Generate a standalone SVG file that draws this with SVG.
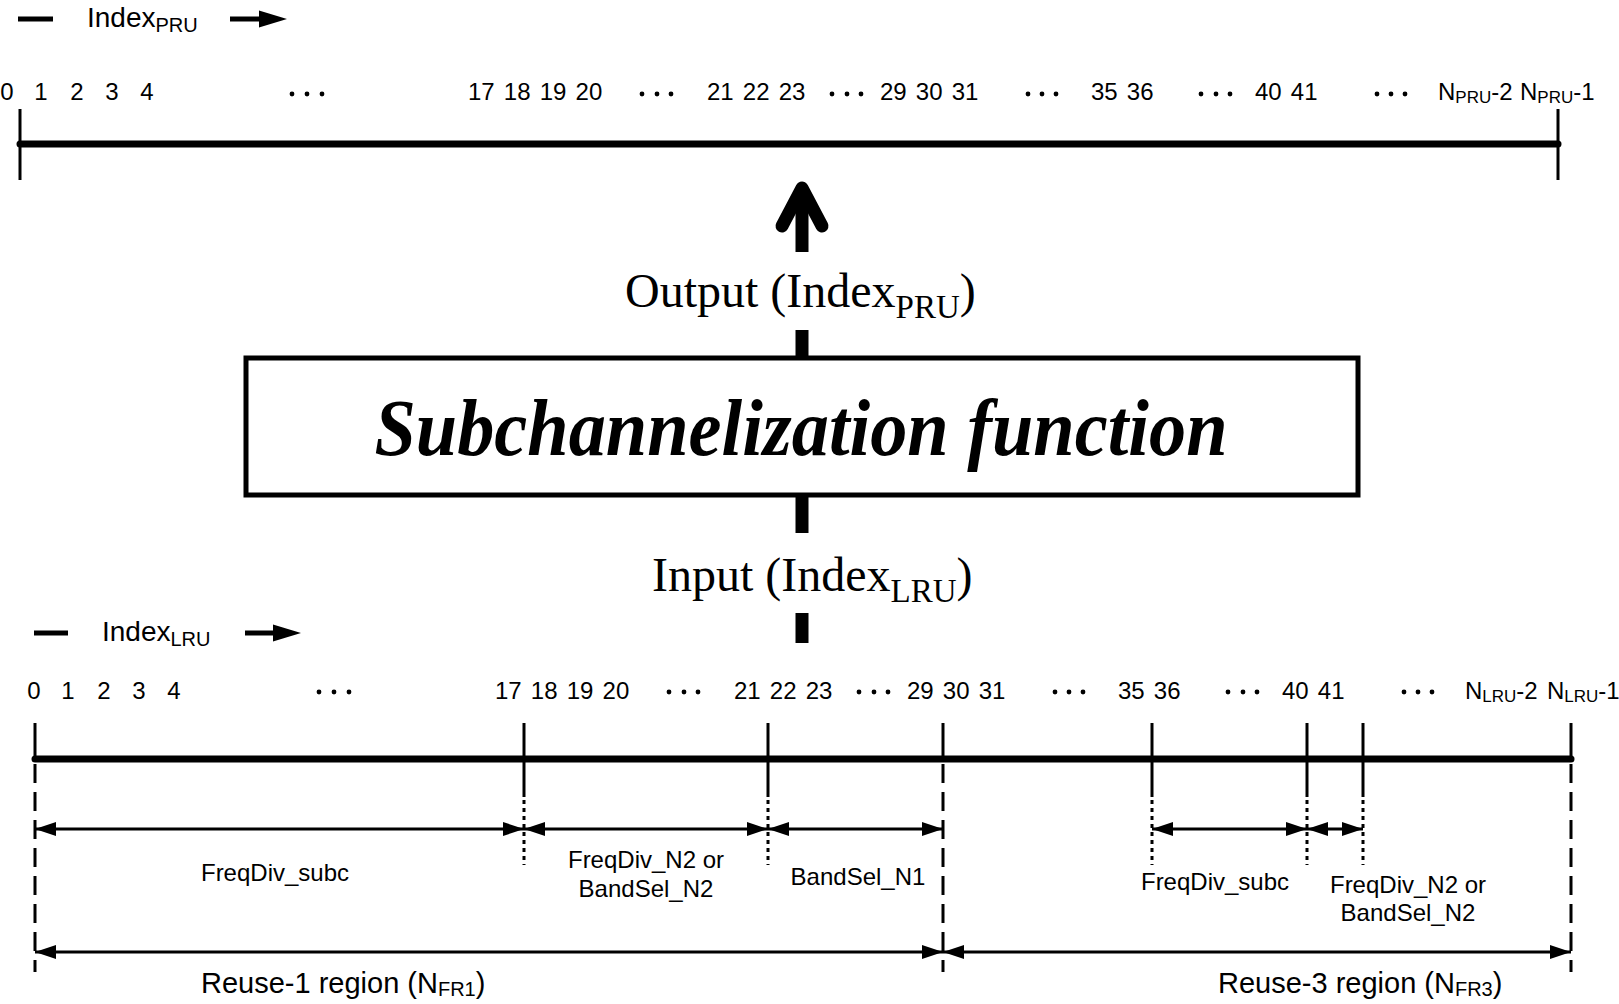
<svg xmlns="http://www.w3.org/2000/svg" width="1619" height="1004" viewBox="0 0 1619 1004">
<defs>
<style>
.sans{font-family:"Liberation Sans",Arial,sans-serif;fill:#000}
.num{font-size:24px;word-spacing:2.5px}
.lbl{font-size:24px;text-anchor:middle}
.serif{font-family:"Liberation Serif","Times New Roman",serif;fill:#000}
.ln{stroke:#000;fill:none}
.dot{fill:#000}
</style>
<marker id="ah" viewBox="0 0 21 14" refX="21" refY="7" markerWidth="21" markerHeight="14" markerUnits="userSpaceOnUse" orient="auto-start-reverse">
<path d="M0,0 L21,7 L0,14 z" fill="#000"/>
</marker>
</defs>
<rect width="1619" height="1004" fill="#fff"/>

<g id="connectors">
<!-- top axis -->
<line class="ln" x1="20" y1="144" x2="1558" y2="144" stroke-width="7" stroke-linecap="round"/>
<line class="ln" x1="20" y1="109" x2="20" y2="180" stroke-width="3"/>
<line class="ln" x1="1558" y1="109" x2="1558" y2="180" stroke-width="3"/>
<!-- top index arrow -->
<line class="ln" x1="18" y1="19" x2="53" y2="19" stroke-width="5"/>
<line class="ln" x1="230" y1="19" x2="262" y2="19" stroke-width="5"/>
<polygon points="259,10.5 287,19 259,27.5" fill="#000"/>
<!-- up arrow -->
<polyline class="ln" points="782,226 802,188 822,226" stroke-width="13" stroke-linecap="round" stroke-linejoin="round"/>
<line class="ln" x1="802" y1="190" x2="802" y2="252" stroke-width="13"/>
<line class="ln" x1="802" y1="330" x2="802" y2="358" stroke-width="13"/>
<line class="ln" x1="802" y1="495" x2="802" y2="533" stroke-width="13"/>
<line class="ln" x1="802" y1="613" x2="802" y2="643" stroke-width="13"/>
<!-- bottom index arrow -->
<line class="ln" x1="34" y1="633" x2="68" y2="633" stroke-width="5"/>
<line class="ln" x1="245" y1="633" x2="276" y2="633" stroke-width="5"/>
<polygon points="273,624.5 301,633 273,641.5" fill="#000"/>
<!-- bottom axis -->
<line class="ln" x1="35" y1="759" x2="1571" y2="759" stroke-width="7" stroke-linecap="round"/>
<g class="ln" stroke-width="3">
<line x1="35" y1="723" x2="35" y2="759"/>
<line x1="943" y1="723" x2="943" y2="759"/>
<line x1="1571" y1="723" x2="1571" y2="759"/>
<line x1="524" y1="723" x2="524" y2="797"/>
<line x1="768" y1="723" x2="768" y2="797"/>
<line x1="1152" y1="723" x2="1152" y2="797"/>
<line x1="1307" y1="723" x2="1307" y2="797"/>
<line x1="1363" y1="723" x2="1363" y2="797"/>
</g>
<g class="ln" stroke-width="3" stroke-dasharray="4 4">
<line x1="524" y1="800" x2="524" y2="865"/>
<line x1="768" y1="800" x2="768" y2="865"/>
<line x1="1152" y1="800" x2="1152" y2="865"/>
<line x1="1307" y1="800" x2="1307" y2="865"/>
<line x1="1363" y1="800" x2="1363" y2="865"/>
</g>
<g class="ln" stroke-width="3" stroke-dasharray="19 9">
<line x1="35" y1="764" x2="35" y2="972"/>
<line x1="943" y1="764" x2="943" y2="972"/>
<line x1="1571" y1="764" x2="1571" y2="972"/>
</g>
<g class="ln" stroke-width="3" marker-start="url(#ah)" marker-end="url(#ah)">
<line x1="35" y1="829" x2="524" y2="829"/>
<line x1="524" y1="829" x2="768" y2="829"/>
<line x1="768" y1="829" x2="943" y2="829"/>
<line x1="1152" y1="829" x2="1307" y2="829"/>
<line x1="1307" y1="829" x2="1363" y2="829"/>
<line x1="35" y1="952" x2="943" y2="952"/>
<line x1="943" y1="952" x2="1571" y2="952"/>
</g>
</g>

<g id="top-axis-labels" class="sans">
<text x="87" y="27" font-size="28">Index<tspan font-size="20" dy="5">PRU</tspan></text>
<g class="num" text-anchor="middle">
<text x="7" y="100">0</text>
<text x="41" y="100">1</text>
<text x="77" y="100">2</text>
<text x="112" y="100">3</text>
<text x="147" y="100">4</text>
</g>
<g class="num">
<text x="468" y="100">17 18 19 20</text>
<text x="707" y="100">21 22 23</text>
<text x="880" y="100">29 30 31</text>
<text x="1091" y="100">35 36</text>
<text x="1255" y="100">40 41</text>
<text x="1438" y="100">N<tspan font-size="17" dy="3">PRU</tspan><tspan dy="-3">-2</tspan></text>
<text x="1520" y="100">N<tspan font-size="17" dy="3">PRU</tspan><tspan dy="-3">-1</tspan></text>
</g>
<g class="dot">
<circle cx="292" cy="94" r="2.4"/><circle cx="307" cy="94" r="2.4"/><circle cx="322" cy="94" r="2.4"/>
<circle cx="642" cy="94" r="2.4"/><circle cx="657" cy="94" r="2.4"/><circle cx="671" cy="94" r="2.4"/>
<circle cx="832" cy="94" r="2.4"/><circle cx="847" cy="94" r="2.4"/><circle cx="861" cy="94" r="2.4"/>
<circle cx="1028" cy="94" r="2.4"/><circle cx="1042" cy="94" r="2.4"/><circle cx="1056" cy="94" r="2.4"/>
<circle cx="1201" cy="94" r="2.4"/><circle cx="1216" cy="94" r="2.4"/><circle cx="1230" cy="94" r="2.4"/>
<circle cx="1377" cy="94" r="2.4"/><circle cx="1391" cy="94" r="2.4"/><circle cx="1405" cy="94" r="2.4"/>
</g>
</g>

<g id="output-label" class="serif">
<text x="625" y="307" font-size="48">Output (Index<tspan font-size="33" dy="11">PRU</tspan><tspan dy="-11">)</tspan></text>
</g>

<g id="subchannelization-box">
<rect x="246" y="358" width="1112" height="137" fill="none" stroke="#000" stroke-width="5"/>
<text class="serif" x="801" y="455" font-size="80" font-weight="bold" font-style="italic" text-anchor="middle" textLength="853" lengthAdjust="spacingAndGlyphs">Subchannelization function</text>
</g>

<g id="input-label" class="serif">
<text x="652" y="591" font-size="48">Input (Index<tspan font-size="33" dy="11">LRU</tspan><tspan dy="-11">)</tspan></text>
</g>

<g id="bottom-axis-labels" class="sans">
<text x="102" y="641" font-size="28">Index<tspan font-size="20" dy="5">LRU</tspan></text>
<g class="num" text-anchor="middle">
<text x="34" y="699">0</text>
<text x="68" y="699">1</text>
<text x="104" y="699">2</text>
<text x="139" y="699">3</text>
<text x="174" y="699">4</text>
</g>
<g class="num">
<text x="495" y="699">17 18 19 20</text>
<text x="734" y="699">21 22 23</text>
<text x="907" y="699">29 30 31</text>
<text x="1118" y="699">35 36</text>
<text x="1282" y="699">40 41</text>
<text x="1465" y="699">N<tspan font-size="17" dy="3">LRU</tspan><tspan dy="-3">-2</tspan></text>
<text x="1547" y="699">N<tspan font-size="17" dy="3">LRU</tspan><tspan dy="-3">-1</tspan></text>
</g>
<g class="dot">
<circle cx="319" cy="692" r="2.4"/><circle cx="334" cy="692" r="2.4"/><circle cx="349" cy="692" r="2.4"/>
<circle cx="669" cy="692" r="2.4"/><circle cx="684" cy="692" r="2.4"/><circle cx="698" cy="692" r="2.4"/>
<circle cx="859" cy="692" r="2.4"/><circle cx="874" cy="692" r="2.4"/><circle cx="888" cy="692" r="2.4"/>
<circle cx="1055" cy="692" r="2.4"/><circle cx="1069" cy="692" r="2.4"/><circle cx="1083" cy="692" r="2.4"/>
<circle cx="1228" cy="692" r="2.4"/><circle cx="1243" cy="692" r="2.4"/><circle cx="1257" cy="692" r="2.4"/>
<circle cx="1404" cy="692" r="2.4"/><circle cx="1418" cy="692" r="2.4"/><circle cx="1432" cy="692" r="2.4"/>
</g>
</g>

<g id="region-labels" class="sans">
<text class="lbl" x="275" y="881">FreqDiv_subc</text>
<text class="lbl" x="646" y="868">FreqDiv_N2 or</text>
<text class="lbl" x="646" y="897">BandSel_N2</text>
<text class="lbl" x="858" y="885">BandSel_N1</text>
<text class="lbl" x="1215" y="890">FreqDiv_subc</text>
<text class="lbl" x="1408" y="893">FreqDiv_N2 or</text>
<text class="lbl" x="1408" y="921">BandSel_N2</text>
<text x="201" y="993" font-size="29">Reuse-1 region (N<tspan font-size="20" dy="3">FR1</tspan><tspan dy="-3">)</tspan></text>
<text x="1218" y="993" font-size="29">Reuse-3 region (N<tspan font-size="20" dy="3">FR3</tspan><tspan dy="-3">)</tspan></text>
</g>
</svg>
